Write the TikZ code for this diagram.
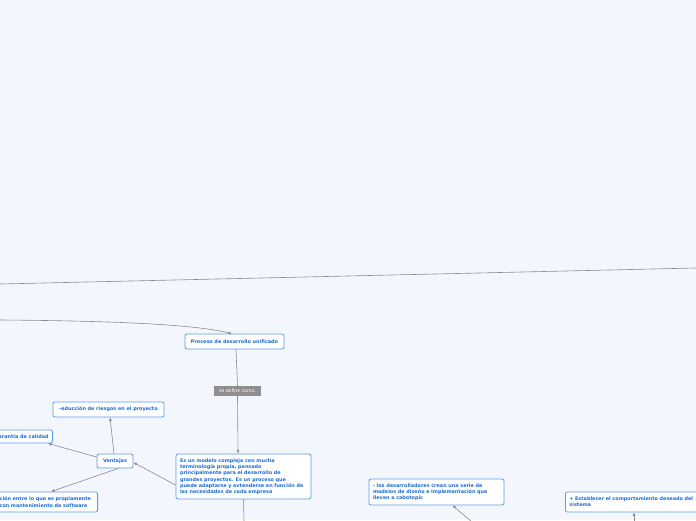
\documentclass[tikz,border=0pt]{standalone}
\usepackage{fontspec}
\newfontfamily\mapfont{DejaVu Sans}
\usetikzlibrary{arrows.meta, positioning, calc}
\definecolor{bgblue}{HTML}{F3F6FD}
\definecolor{boxblue}{HTML}{5F9BE3}
\definecolor{txtblue}{HTML}{1C6DD6}
\definecolor{linegray}{HTML}{8C8C8F}
\definecolor{lblgray}{HTML}{8E8E8E}

\begin{document}
\begin{tikzpicture}[
        x=1pt, y=-1pt,
        font=\mapfont\bfseries\fontsize{4.9}{6.3}\selectfont,
        box/.style={draw=boxblue, fill=white, rounded corners=2pt, line width=0.8pt,
            text=txtblue, inner xsep=4pt, inner ysep=2pt, align=left},
        lbl/.style={fill=lblgray, text=white, font=\mapfont\fontsize{4.6}{5}\selectfont,
            minimum width=47pt, minimum height=10pt, inner sep=1pt},
        arr/.style={-{Latex[length=3.5pt, width=3pt]}, linegray, line width=0.6pt},
        lnk/.style={linegray, line width=0.6pt}
    ]
        \useasboundingbox (0,0) rectangle (696,520);
        \clip (0,0) rectangle (696,520);
        \fill[bgblue] (0,0) rectangle (696,520);

        % loose ends leaving the frame
        \coordinate (l1) at (0,284);
        \coordinate (r1) at (696,268);
        \coordinate (l2) at (0,320);
        \coordinate (b1) at (244,522);
        \coordinate (b2) at (472,522);
        \coordinate (b3) at (634,522);

        \node[box, minimum width=99pt, minimum height=15pt, align=center] (proc) at (234.5,341.5) {Proceso de desarrollo unificado};
        \node[lbl] (def) at (237.5,391) {se define como:};
        \node[box, text width=127pt, minimum height=45pt] (model) at (243.5,476.5)
            {Es un modelo complejo con mucha\\terminología propia, pensado\\principalmente para el desarrollo de\\grandes proyectos. Es un proceso que\\puede adaptarse y extenderse en función de\\las necesidades de cada empresa};
        \node[box, minimum width=36pt, minimum height=14pt, align=center] (vent) at (115,461) {Ventajas};
        \node[box, minimum width=111pt, minimum height=15pt, align=center] (red) at (108.5,409.5) {-educción de riesgos en el proyecto};
        \node[box, minimum height=13pt, anchor=east] (gar) at (53,436.5) {arantía de calidad};
        \node[box, text width=94pt, minimum height=20pt, anchor=east] (inte) at (98,502)
            {ción entre lo que es propiamente\\con mantenimiento de software};
        \node[box, text width=127pt, minimum height=26pt] (dev) at (436.5,492)
            {- los desarrolladores crean una serie de\\modelos de diseño e implementación que\\llevan a cabotopic};
        \node[box, text width=150pt, minimum height=20pt, anchor=west] (est) at (565,502)
            {+ Establecer el comportamiento deseado del\\sistema};

        \draw[lnk] (l1) -- (r1);
        \draw[arr] (l2) .. controls (140,321) and (200,326) .. ([xshift=-2.5pt]proc.north);
        \draw[lnk] ([xshift=1.5pt]proc.south) -- (def.north);
        \draw[arr] (def.south) -- ([xshift=-5.5pt]model.north);
        \draw[lnk] (model.south) -- (b1);
        \draw[arr] ([yshift=-8.5pt]model.west) -- ([yshift=-1.5pt]vent.east);
        \draw[arr] ([xshift=-1pt]vent.north) -- ([xshift=1.5pt]red.south);
        \draw[arr] ([yshift=4pt]vent.west) -- ([xshift=-5pt]gar.south east);
        \draw[arr] ([xshift=-15pt]vent.south east) -- ([xshift=-47pt]inte.north east);
        \draw[arr] (b2) -- ([xshift=16pt]dev.south);
        \draw[arr] (b3) -- (est.south west -| b3);
\end{tikzpicture}
\end{document}
